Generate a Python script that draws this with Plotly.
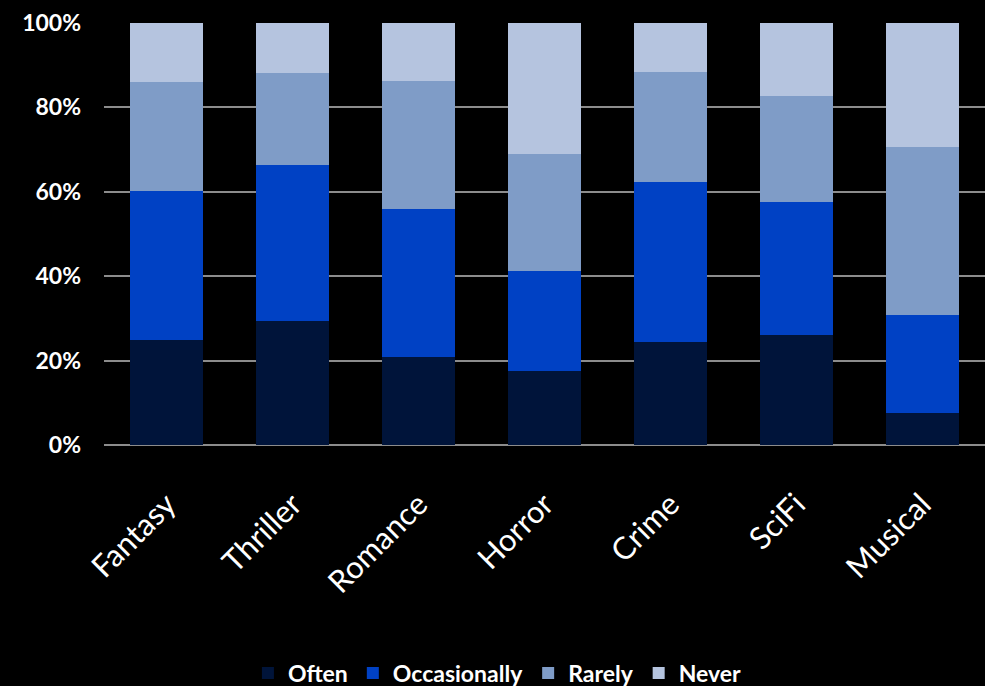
import plotly.graph_objects as go

# Share of respondents by how often they watch each film genre (percent)
genres = ["Fantasy", "Thriller", "Romance", "Horror", "Crime", "SciFi", "Musical"]
often = [24.8, 29.4, 20.9, 17.5, 24.4, 26.0, 7.6]
occasionally = [35.3, 37.0, 35.0, 23.7, 37.9, 31.7, 23.2]
rarely = [25.9, 21.8, 30.4, 27.8, 26.0, 24.9, 39.8]
never = [14.0, 11.8, 13.7, 31.0, 11.7, 17.4, 29.4]

series_names = ["Often", "Occasionally", "Rarely", "Never"]
series_values = [often, occasionally, rarely, never]
series_colors = ["#00143A", "#0041C4", "#7F9CC7", "#B5C4DF"]

fig = go.Figure()
for name, vals, col in zip(series_names, series_values, series_colors):
    fig.add_trace(go.Bar(
        name=name,
        x=genres,
        y=vals,
        marker=dict(color=col, line=dict(width=0)),
    ))

fig.update_layout(
    barmode="stack",
    barnorm="percent",
    bargap=0.42,
    width=985,
    height=686,
    margin=dict(l=104, r=0, t=23, b=241),
    paper_bgcolor="#000000",
    plot_bgcolor="#000000",
    font=dict(family="Lato, sans-serif", color="#FFFFFF"),
    showlegend=True,
    legend=dict(
        orientation="h",
        xref="container",
        yref="container",
        x=0.505,
        xanchor="center",
        y=0.019,
        yanchor="middle",
        font=dict(size=23, family="Lato, sans-serif", weight="bold"),
        itemsizing="constant",
        traceorder="normal",
    ),
    xaxis=dict(
        tickangle=-45,
        tickfont=dict(size=31, family="Lato, sans-serif"),
        showgrid=False,
        showline=False,
        ticks="",
        ticklabelstandoff=34,
    ),
    yaxis=dict(
        range=[0, 100],
        tickvals=[0, 20, 40, 60, 80, 100],
        ticktext=["0%", "20%", "40%", "60%", "80%", "100%"],
        tickfont=dict(size=23, family="Lato, sans-serif", weight="bold"),
        showgrid=True,
        gridcolor="#8C8C8C",
        gridwidth=2,
        zeroline=True,
        zerolinecolor="#8C8C8C",
        zerolinewidth=2,
        showline=False,
        ticks="",
        ticklabelstandoff=22,
    ),
)

fig.write_html("out.html")
